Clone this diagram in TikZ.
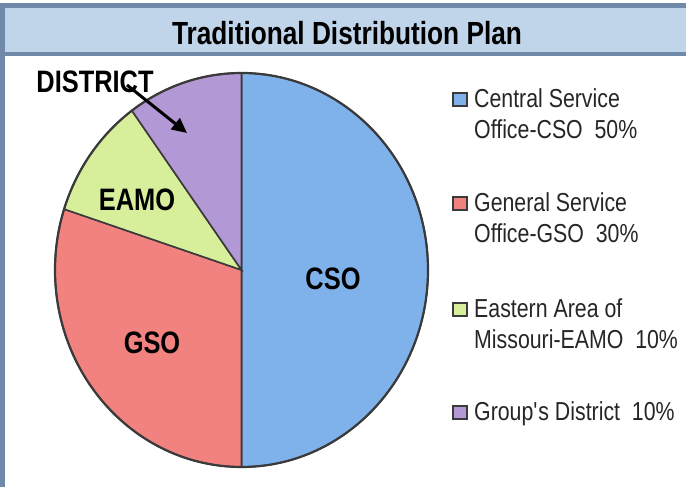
\documentclass[tikz,border=0pt]{standalone}
\usepackage{fontspec}
\setmainfont{Liberation Sans}
\newfontfamily\narrowfont{Liberation Sans}[FakeStretch=0.82]
\usetikzlibrary{arrows.meta}
\definecolor{frameblue}{HTML}{7189A8}
\definecolor{bandblue}{HTML}{C0D4EA}
\definecolor{csoc}{HTML}{7FB1EA}
\definecolor{gsoc}{HTML}{F2827F}
\definecolor{eamoc}{HTML}{D7EE9A}
\definecolor{distc}{HTML}{B398D6}
\definecolor{outline}{HTML}{3A3A3A}
\tikzset{
  wedge/.style={draw=outline, line width=1.6pt},
  slicelabel/.style={font=\narrowfont\fontsize{31}{31}\selectfont\bfseries, inner sep=0pt},
  legtext/.style={font=\narrowfont\fontsize{26}{26}\selectfont, anchor=base west, inner sep=0pt, text=black!85},
  legbox/.style={draw=outline, line width=2pt, minimum width=14pt, minimum height=13pt, inner sep=0pt},
}
\begin{document}
\begin{tikzpicture}[x=1pt,y=1pt]
\useasboundingbox (0,0) rectangle (686,487);
% frame
\fill[frameblue] (0,0) rectangle (5,484);
\fill[frameblue] (0,479) rectangle (686,484);
\fill[bandblue] (5,435) rectangle (686,479);
\fill[frameblue] (5,431) rectangle (686,435);
\node[font=\narrowfont\fontsize{32}{32}\selectfont\bfseries, inner sep=0pt] (title) at (347,454) {Traditional Distribution Plan};
% pie
\coordinate (c) at (241.5,217);
\filldraw[wedge, fill=csoc] (c) -- +(0,197) arc[start angle=90, end angle=-90, x radius=186.5, y radius=197] -- cycle;
\filldraw[wedge, fill=gsoc] (c) -- +(0,-197) arc[start angle=-90, end angle=-198, x radius=186.5, y radius=197] -- cycle;
\filldraw[wedge, fill=eamoc] (c) -- +({186.5*cos(-198)},{197*sin(-198)}) arc[start angle=-198, end angle=-234, x radius=186.5, y radius=197] -- cycle;
\filldraw[wedge, fill=distc] (c) -- +({186.5*cos(-234)},{197*sin(-234)}) arc[start angle=-234, end angle=-270, x radius=186.5, y radius=197] -- cycle;
\draw[draw=outline, line width=2.2pt] (c) ellipse[x radius=186.5, y radius=197];
\node[slicelabel] (cso) at (333,208) {CSO};
\node[slicelabel] (gso) at (152,144) {GSO};
\node[slicelabel] (eamo) at (137,287) {EAMO};
\node[slicelabel] (district) at (95,405) {DISTRICT};
\coordinate (arrs) at (127,402);
\coordinate (arre) at (187,354);
\draw[line width=3pt, -{Triangle[length=15pt,width=14pt]}] (arrs) -- (arre);
% legend
\node[legbox, fill=csoc] (lb1) at (460,387.5) {};
\node[legtext] (lt1a) at (474,379) {Central Service};
\node[legtext] (lt1b) at (474,348) {Office-CSO\ \ 50\%};
\node[legbox, fill=gsoc] (lb2) at (460,283.5) {};
\node[legtext] (lt2a) at (474,275) {General Service};
\node[legtext] (lt2b) at (474,244) {Office-GSO\ \ 30\%};
\node[legbox, fill=eamoc] (lb3) at (460,177.5) {};
\node[legtext] (lt3a) at (474,169) {Eastern Area of};
\node[legtext] (lt3b) at (474,138) {Missouri-EAMO\ \ 10\%};
\node[legbox, fill=distc] (lb4) at (460,74.5) {};
\node[legtext] (lt4) at (474,66) {Group\textquotesingle s District\ \ 10\%};
\end{tikzpicture}
\end{document}
